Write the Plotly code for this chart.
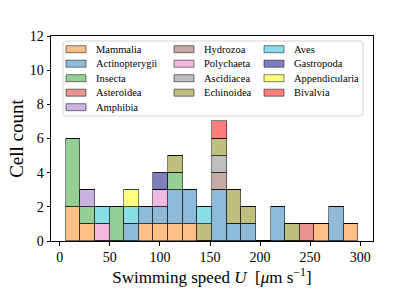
import plotly.graph_objects as go

# ---- data -------------------------------------------------------------
bin_edges = [5.8, 20.4, 35.0, 49.7, 64.3, 78.9, 93.5, 108.1, 122.8, 137.4, 152.0,
             166.6, 181.2, 195.9, 210.5, 225.1, 239.7, 254.3, 269.0, 283.6, 298.2]

mammalia       = [2, 1, 0, 0, 0, 1, 1, 1, 1, 0, 0, 0, 0, 0, 0, 0, 0, 1, 0, 1]
actinopterygii = [0, 0, 0, 0, 1, 1, 1, 2, 2, 0, 3, 1, 1, 0, 2, 0, 0, 0, 2, 0]
insecta        = [4, 1, 0, 2, 0, 0, 0, 1, 0, 0, 0, 0, 0, 0, 0, 0, 0, 0, 0, 0]
asteroidea     = [0, 0, 0, 0, 0, 0, 0, 0, 0, 0, 0, 0, 0, 0, 0, 0, 1, 0, 0, 0]
amphibia       = [0, 1, 0, 0, 0, 0, 0, 0, 0, 0, 0, 0, 0, 0, 0, 0, 0, 0, 0, 0]
hydrozoa       = [0, 0, 0, 0, 0, 0, 0, 0, 0, 0, 1, 0, 0, 0, 0, 0, 0, 0, 0, 0]
polychaeta     = [0, 0, 1, 0, 0, 0, 1, 0, 0, 0, 0, 0, 0, 0, 0, 0, 0, 0, 0, 0]
ascidiacea     = [0, 0, 0, 0, 0, 0, 0, 0, 0, 0, 1, 0, 0, 0, 0, 0, 0, 0, 0, 0]
echinoidea     = [0, 0, 0, 0, 0, 0, 0, 1, 0, 1, 1, 2, 1, 0, 0, 1, 0, 0, 0, 0]
aves           = [0, 0, 1, 0, 1, 0, 0, 0, 0, 1, 0, 0, 0, 0, 0, 0, 0, 0, 0, 0]
gastropoda     = [0, 0, 0, 0, 0, 0, 1, 0, 0, 0, 0, 0, 0, 0, 0, 0, 0, 0, 0, 0]
appendicularia = [0, 0, 0, 0, 1, 0, 0, 0, 0, 0, 0, 0, 0, 0, 0, 0, 0, 0, 0, 0]
bivalvia       = [0, 0, 0, 0, 0, 0, 0, 0, 0, 0, 1, 0, 0, 0, 0, 0, 0, 0, 0, 0]

species = ["Mammalia", "Actinopterygii", "Insecta", "Asteroidea", "Amphibia",
           "Hydrozoa", "Polychaeta", "Ascidiacea", "Echinoidea", "Aves",
           "Gastropoda", "Appendicularia", "Bivalvia"]
counts = [mammalia, actinopterygii, insecta, asteroidea, amphibia, hydrozoa,
          polychaeta, ascidiacea, echinoidea, aves, gastropoda, appendicularia,
          bivalvia]
colors = ["rgba(255,127,14,0.5)", "rgba(31,119,180,0.5)", "rgba(44,160,44,0.5)",
          "rgba(214,39,40,0.5)", "rgba(148,103,189,0.5)", "rgba(140,86,75,0.5)",
          "rgba(227,119,194,0.5)", "rgba(127,127,127,0.5)", "rgba(128,128,0,0.5)",
          "rgba(23,190,207,0.5)", "rgba(0,0,128,0.5)", "rgba(255,255,0,0.5)",
          "rgba(255,0,0,0.5)"]

x_ticks = [0, 50, 100, 150, 200, 250, 300]
y_ticks = [0, 2, 4, 6, 8, 10, 12]

# ---- figure -----------------------------------------------------------
centers = [(a + b) / 2 for a, b in zip(bin_edges[:-1], bin_edges[1:])]
widths = [b - a for a, b in zip(bin_edges[:-1], bin_edges[1:])]
EDGE = "rgba(0,0,0,0.5)"
FONT = "Liberation Serif"

fig = go.Figure()
for name, c, col in zip(species, counts, colors):
    fig.add_trace(go.Bar(x=centers, y=c, width=widths, name=name,
                         marker=dict(color=col, line=dict(color=EDGE, width=1)),
                         showlegend=False))

# plot-area pixel box -> paper coords helper (for the legend box)
L, R, T, B = 51, 373, 36, 241
W, H = 415, 297
def px(x):
    return (x - L) / (R - L)
def py(y):
    return (B - y) / (B - T)

shapes = []
annotations = []
# legend frame (rounded)
x0, x1, y0, y1, r = 63, 363, 41, 116, 3
path = (f"M {px(x0+r)},{py(y0)} L {px(x1-r)},{py(y0)} "
        f"Q {px(x1)},{py(y0)} {px(x1)},{py(y0+r)} L {px(x1)},{py(y1-r)} "
        f"Q {px(x1)},{py(y1)} {px(x1-r)},{py(y1)} L {px(x0+r)},{py(y1)} "
        f"Q {px(x0)},{py(y1)} {px(x0)},{py(y1-r)} L {px(x0)},{py(y0+r)} "
        f"Q {px(x0)},{py(y0)} {px(x0+r)},{py(y0)} Z")
shapes.append(dict(type="path", xref="paper", yref="paper", path=path,
                   fillcolor="rgba(255,255,255,0.8)",
                   line=dict(color="rgba(204,204,204,0.8)", width=1)))
col_x = [66, 174, 264]
row_y0, row_dy = 49.2, 14.5
per_col = [5, 4, 4]
k = 0
for ci, n in enumerate(per_col):
    for ri in range(n):
        yc = row_y0 + ri * row_dy
        sx = col_x[ci]
        shapes.append(dict(type="rect", xref="paper", yref="paper",
                           x0=px(sx), x1=px(sx + 20), y0=py(yc - 3.5), y1=py(yc + 3.5),
                           fillcolor=colors[k], line=dict(color=EDGE, width=1)))
        annotations.append(dict(xref="paper", yref="paper", x=px(sx + 28), y=py(yc),
                                text=species[k], showarrow=False, xanchor="left",
                                yanchor="middle", font=dict(family=FONT, size=10.5,
                                                            color="black")))
        k += 1

fig.update_layout(
    width=W, height=H,
    margin=dict(l=L, r=W - R, t=T, b=H - B, autoexpand=False),
    barmode="stack", bargap=0,
    plot_bgcolor="white", paper_bgcolor="white",
    font=dict(family=FONT, color="black"),
    shapes=shapes, annotations=annotations,
    xaxis=dict(range=[-8.8, 312.8], tickvals=x_ticks, ticks="outside", ticklen=3.5,
               tickwidth=0.8, tickcolor="black", showgrid=False, zeroline=False,
               showline=True, mirror=True, linecolor="black", linewidth=1,
               tickfont=dict(size=14),
               title=dict(text="Swimming speed <i>U</i>  [<i>μ</i>m s<sup>−1</sup>]",
                          font=dict(size=17), standoff=4)),
    yaxis=dict(range=[0, 12], tickvals=y_ticks, ticks="outside", ticklen=3.5,
               tickwidth=0.8, tickcolor="black", showgrid=False, zeroline=False,
               showline=True, mirror=True, linecolor="black", linewidth=1,
               tickfont=dict(size=14),
               title=dict(text="Cell count", font=dict(size=19), standoff=1)),
)

fig.write_html("out.html", config={"displayModeBar": False},
               post_script="document.body.style.margin='0';document.body.style.padding='0';")
